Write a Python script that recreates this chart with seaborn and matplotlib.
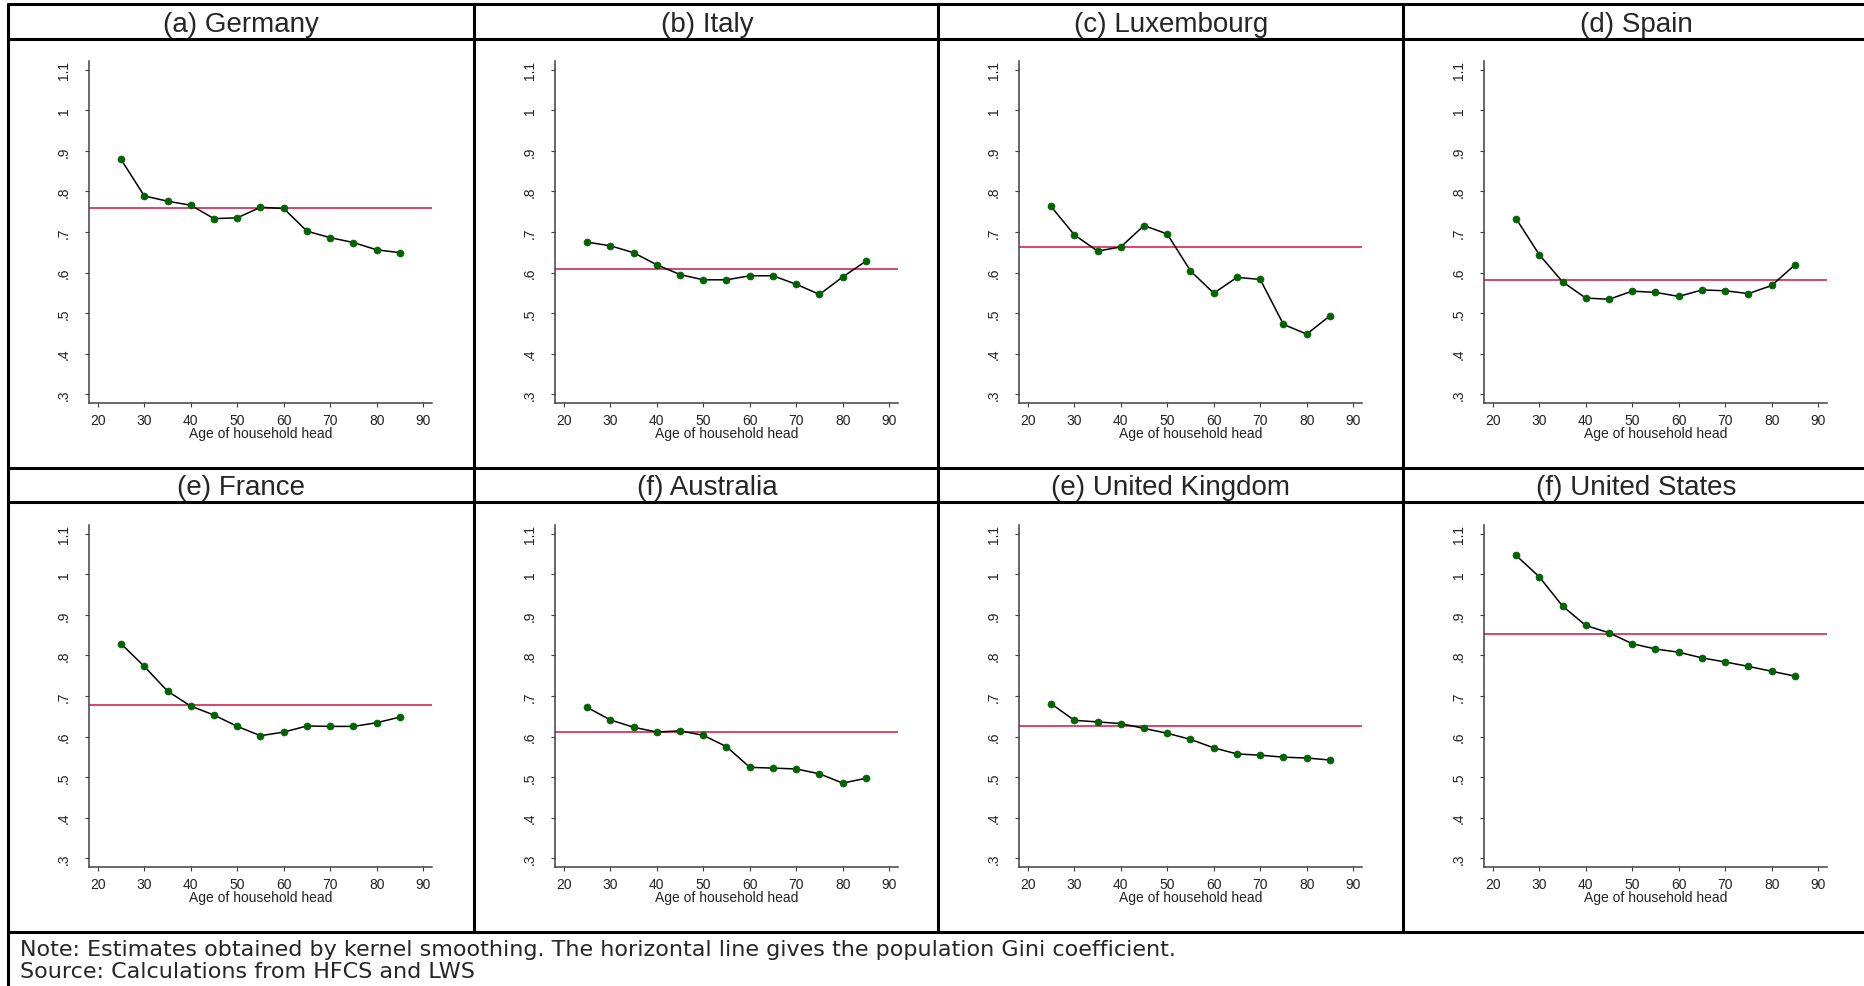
import numpy as np
import pandas as pd
import matplotlib.pyplot as plt
from matplotlib.lines import Line2D
import seaborn as sns

# age groups of the household head
ages = [25, 30, 35, 40, 45, 50, 55, 60, 65, 70, 75, 80, 85]

# smoothed gini by age
germany = [0.879, 0.789, 0.776, 0.766, 0.733, 0.735, 0.761, 0.758, 0.702, 0.686, 0.674, 0.656, 0.649]
italy = [0.675, 0.666, 0.649, 0.619, 0.595, 0.582, 0.582, 0.592, 0.592, 0.571, 0.546, 0.589, 0.628]
luxembourg = [0.763, 0.693, 0.653, 0.663, 0.716, 0.695, 0.604, 0.549, 0.588, 0.583, 0.472, 0.448, 0.493]
spain = [0.733, 0.644, 0.577, 0.537, 0.534, 0.554, 0.551, 0.541, 0.557, 0.555, 0.548, 0.568, 0.619]
france = [0.829, 0.773, 0.712, 0.675, 0.653, 0.625, 0.602, 0.611, 0.626, 0.625, 0.625, 0.634, 0.648]
australia = [0.672, 0.641, 0.623, 0.611, 0.614, 0.603, 0.575, 0.524, 0.522, 0.520, 0.508, 0.485, 0.497]
uk = [0.681, 0.640, 0.636, 0.632, 0.620, 0.608, 0.593, 0.572, 0.557, 0.554, 0.549, 0.547, 0.542]
us = [1.047, 0.994, 0.922, 0.874, 0.856, 0.829, 0.816, 0.808, 0.794, 0.784, 0.773, 0.761, 0.749]

# population gini (horizontal line)
gini_pop = [0.758, 0.609, 0.662, 0.581, 0.678, 0.611, 0.626, 0.853]

titles = ["(a) Germany", "(b) Italy", "(c) Luxembourg", "(d) Spain",
          "(e) France", "(f) Australia", "(e) United Kingdom", "(f) United States"]
series = [germany, italy, luxembourg, spain, france, australia, uk, us]

yticks = [0.3, 0.4, 0.5, 0.6, 0.7, 0.8, 0.9, 1.0, 1.1]
ytick_labels = [".3", ".4", ".5", ".6", ".7", ".8", ".9", "1", "1.1"]
xticks = [20, 30, 40, 50, 60, 70, 80, 90]

note1 = "Note: Estimates obtained by kernel smoothing. The horizontal line gives the population Gini coefficient."
note2 = "Source: Calculations from HFCS and LWS"

rows = []
for t, vals in zip(titles, series):
    for a, v in zip(ages, vals):
        rows.append((t, a, v))
df = pd.DataFrame(rows, columns=['panel', 'age', 'gini'])

sns.set_theme(style="ticks")
plt.rcParams['font.family'] = ['Liberation Sans', 'DejaVu Sans']

W, H = 1865, 987
fig = plt.figure(figsize=(W / 100, H / 100), dpi=100)

cell_x = [8, 474, 938, 1403]
cell_y = [5, 469]
cell_w = 466
axis_col = '#404040'

for i, t in enumerate(titles):
    cx = cell_x[i % 4]
    cy = cell_y[i // 4]
    ax = fig.add_axes([(cx + 81) / W, 1 - (cy + 57 + 342) / H, 343 / W, 342 / H])
    d = df[df['panel'] == t]

    ax.axhline(gini_pop[i], color='#cf1442', lw=1.1, zorder=1)
    sns.lineplot(data=d, x='age', y='gini', ax=ax, color='black', lw=1.1, zorder=2)
    sns.scatterplot(data=d, x='age', y='gini', ax=ax, color='#006400', edgecolor='#006400',
                    s=26, zorder=3, legend=False)

    ax.set_xlim(18.1, 91.9)
    ax.set_ylim(0.278, 1.122)
    ax.set_xticks(xticks)
    ax.set_yticks(yticks, ytick_labels, rotation=90, va='center')
    ax.tick_params(axis='both', length=3, width=0.8, color=axis_col, labelsize=10, labelcolor='#222222')
    ax.tick_params(axis='x', pad=4.5)
    ax.tick_params(axis='y', pad=10)
    ax.set_xlabel("Age of household head", fontsize=10, labelpad=-1, color='#222222')
    ax.set_ylabel("")
    for s in ['top', 'right']:
        ax.spines[s].set_visible(False)
    for s in ['left', 'bottom']:
        ax.spines[s].set_linewidth(1.1)
        ax.spines[s].set_color(axis_col)

    fig.text((cx + cell_w / 2) / W, 1 - (cy + 19.5) / H, t, ha='center', va='center', fontsize=20)


def hline(y, x0=8, x1=W, lw=2.2):
    fig.add_artist(Line2D([x0 / W, x1 / W], [1 - y / H, 1 - y / H], transform=fig.transFigure,
                          color='black', lw=lw))


def vline(x, y0, y1, lw=2.2):
    fig.add_artist(Line2D([x / W, x / W], [1 - y0 / H, 1 - y1 / H], transform=fig.transFigure,
                          color='black', lw=lw))


for y in [5, 40, 469, 503, 933]:
    hline(y)
vline(8, 5, H)
for x in cell_x[1:]:
    vline(x, 5, 933)

# the note in the original is set wider than Arial, DejaVu Sans comes closer
fig.text(20 / W, 1 - 956 / H, note1, ha='left', va='baseline', fontsize=16, family='DejaVu Sans')
fig.text(20 / W, 1 - 978 / H, note2, ha='left', va='baseline', fontsize=16, family='DejaVu Sans')

plt.savefig("out.png", dpi=100)
